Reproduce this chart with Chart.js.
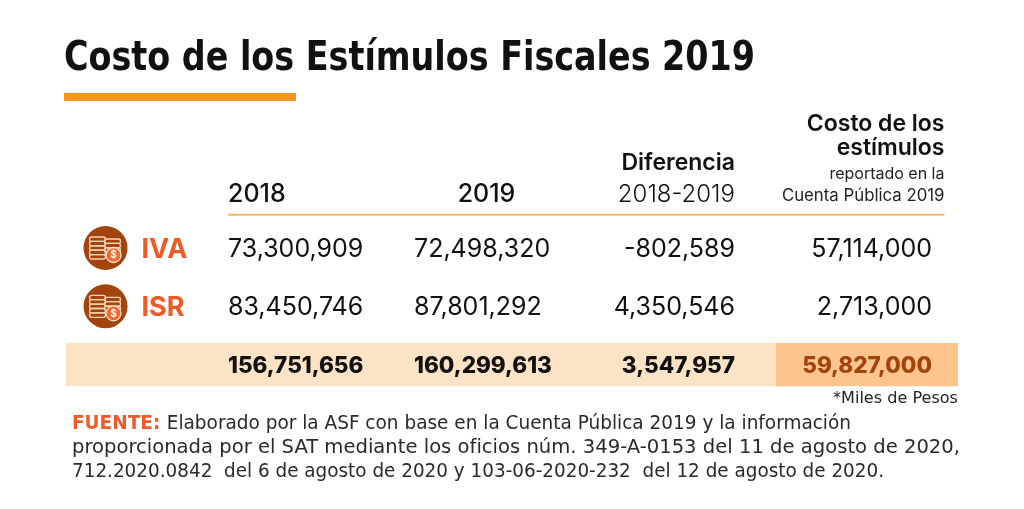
<!DOCTYPE html>
<html lang="es">
<head>
<meta charset="utf-8">
<title>Costo de los Estímulos Fiscales 2019</title>
<script src="https://cdn.jsdelivr.net/npm/chart.js@4.4.1/dist/chart.umd.min.js"></script>
<style>
  html, body { margin: 0; padding: 0; background: #ffffff; }
  #caja { position: relative; width: 1024px; height: 509px; }
</style>
</head>
<body>
<div id="caja"><canvas id="tabla"></canvas></div>
<script>
// datos de la tabla (miles de pesos)
const filas = ['encabezado', 'IVA', 'ISR', 'Total'];
const impuestos = ['IVA', 'ISR'];
const valores2018 = [73300909, 83450746];
const valores2019 = [72498320, 87801292];
const diferencia = [-802589, 4350546];
const costoReportado = [57114000, 2713000];
const totales = [156751656, 160299613, 3547957, 59827000];

const titulo = 'Costo de los Estímulos Fiscales 2019';
const nota = '*Miles de Pesos';
const fuente = [
  'Elaborado por la ASF con base en la Cuenta Pública 2019 y la información',
  'proporcionada por el SAT mediante los oficios núm. 349-A-0153 del 11 de agosto de 2020,',
  '712.2020.0842  del 6 de agosto de 2020 y 103-06-2020-232  del 12 de agosto de 2020.'
];

const NARANJA = '#F7941D';
const ROJIZO = '#EE5A28';
const CAFE = '#A3440F';
const fmt = n => n.toLocaleString('en-US');

const SANS = 'Inter, "Open Sans", sans-serif';
const NARROW = '"Liberation Sans Narrow", "DejaVu Sans Condensed", sans-serif';

// texto con compresion horizontal opcional para ajustar a un ancho
function texto(ctx, str, x, y, font, color, align, ancho) {
  ctx.save();
  ctx.font = font;
  ctx.fillStyle = color;
  ctx.textBaseline = 'alphabetic';
  const w = ctx.measureText(str).width;
  const sx = ancho ? ancho / w : 1;
  ctx.translate(x, y);
  ctx.scale(sx, 1);
  ctx.textAlign = align;
  ctx.fillText(str, 0, 0);
  ctx.restore();
}

function icono(ctx, cx, cy) {
  ctx.save();
  ctx.fillStyle = CAFE;
  ctx.beginPath();
  ctx.arc(cx, cy, 22, 0, Math.PI * 2);
  ctx.fill();
  ctx.strokeStyle = '#F8D3B2';
  ctx.lineWidth = 1.3;
  const pila = (x0, y0, n) => {
    for (let k = 0; k < n; k++) {
      const y = y0 + k * 4.4;
      ctx.beginPath();
      ctx.moveTo(x0 + 2.2, y);
      ctx.lineTo(x0 + 13.8, y);
      ctx.arc(x0 + 13.8, y + 2.2, 2.2, -Math.PI / 2, Math.PI / 2);
      ctx.lineTo(x0 + 2.2, y + 4.4);
      ctx.arc(x0 + 2.2, y + 2.2, 2.2, Math.PI / 2, Math.PI * 1.5);
      ctx.stroke();
    }
  };
  pila(cx - 16, cy - 11, 5);
  pila(cx - 1, cy - 9, 3);
  ctx.fillStyle = '#F26B2C';
  ctx.beginPath();
  ctx.arc(cx + 8, cy + 7, 7.5, 0, Math.PI * 2);
  ctx.fill();
  ctx.strokeStyle = '#FCE3CF';
  ctx.stroke();
  ctx.fillStyle = '#ffffff';
  ctx.font = 'bold 10px ' + SANS;
  ctx.textAlign = 'center';
  ctx.textBaseline = 'middle';
  ctx.fillText('$', cx + 8, cy + 7.5);
  ctx.restore();
}

const INSET = 31.5;
const alineacion = ['left', 'left', 'right', 'right'];
const ajusteCol = [0, -4, 0, 7];

const tablaPlugin = {
  id: 'tablaPlugin',
  afterDatasetsDraw(chart) {
    const ctx = chart.ctx;
    const x = chart.scales.x;
    const y = chart.scales.y;
    const colIzq = i => x.getPixelForValue(i - 0.5);
    const colDer = i => x.getPixelForValue(i + 0.5);
    const ancla = i => (alineacion[i - 1] === 'left' ? colIzq(i) + INSET : colDer(i) - INSET) + ajusteCol[i - 1];
    const fila = r => y.getPixelForValue(r);

    // titulo y barra naranja
    texto(ctx, titulo, 64, 70, 'bold 40px ' + NARROW, '#111111', 'left', 691);
    ctx.fillStyle = NARANJA;
    ctx.fillRect(64, 93, 232, 8);

    // encabezados
    const h = fila(0);
    texto(ctx, '2018', colIzq(1) + INSET, h + 12.5, '500 25px ' + SANS, '#111111', 'left');
    texto(ctx, '2019', x.getPixelForValue(2) + 5, h + 12.5, '500 25px ' + SANS, '#111111', 'center');
    texto(ctx, 'Diferencia', colDer(3) - INSET, h - 20, '600 23px ' + SANS, '#111111', 'right');
    texto(ctx, '2018-2019', colDer(3) - INSET, h + 12.5, '300 24px ' + SANS, '#111111', 'right');
    const d4 = colDer(4) - 12;
    texto(ctx, 'Costo de los', d4, h - 58.5, '600 23px ' + SANS, '#111111', 'right');
    texto(ctx, 'estímulos', d4, h - 34.5, '600 23px ' + SANS, '#111111', 'right');
    texto(ctx, 'reportado en la', d4, h - 10.5, '400 16px ' + SANS, '#222222', 'right');
    texto(ctx, 'Cuenta Pública 2019', d4, h + 11.5, '400 16.8px ' + SANS, '#222222', 'right');

    // linea bajo encabezados
    const yl = (fila(0) + fila(1)) / 2 - 4;
    ctx.strokeStyle = '#F4B869';
    ctx.lineWidth = 2;
    ctx.beginPath();
    ctx.moveTo(colIzq(1) + INSET, yl);
    ctx.lineTo(d4, yl);
    ctx.stroke();

    // filas de impuestos
    const columnas = [valores2018, valores2019, diferencia, costoReportado];
    impuestos.forEach((imp, r) => {
      const yc = fila(r + 1);
      const xi = x.getPixelForValue(0);
      icono(ctx, xi + 4, yc);
      texto(ctx, imp, xi + 40, yc + 10, 'bold 27px ' + SANS, ROJIZO, 'left');
      columnas.forEach((serie, c) => {
        texto(ctx, fmt(serie[r]), ancla(c + 1), yc + 9, '400 25px ' + SANS, '#111111', alineacion[c]);
      });
    });

    // fila de totales
    const yt = fila(3);
    totales.forEach((v, c) => {
      texto(ctx, fmt(v), ancla(c + 1), yt + 8, '800 22.5px ' + SANS, c === 3 ? CAFE : '#111111', alineacion[c]);
    });

    // nota y fuente
    texto(ctx, nota, chart.chartArea.right, 403, '16px ' + NARROW, '#222222', 'right', 125);
    ctx.font = 'bold 20px ' + NARROW;
    const wEt = ctx.measureText('FUENTE: ').width;
    ctx.font = '20px ' + NARROW;
    const wL1 = ctx.measureText(fuente[0]).width;
    const sx = 779 / (wEt + wL1);
    texto(ctx, 'FUENTE: ', 72, 429, 'bold 20px ' + NARROW, ROJIZO, 'left', wEt * sx);
    texto(ctx, fuente[0], 72 + wEt * sx, 429, '20px ' + NARROW, '#2a2a2a', 'left', wL1 * sx);
    texto(ctx, fuente[1], 72, 453, '20px ' + NARROW, '#2a2a2a', 'left', 888);
    texto(ctx, fuente[2], 72, 477, '20px ' + NARROW, '#2a2a2a', 'left', 812);
  }
};

const X_MIN = -0.187;
const X_MAX = 4.508;
const CORTE = 3.55;

new Chart(document.getElementById('tabla').getContext('2d'), {
  type: 'bar',
  data: {
    labels: filas,
    datasets: [
      {
        label: 'fondo total',
        data: [null, null, null, [X_MIN, CORTE]],
        backgroundColor: '#FDE3C6',
        grouped: false,
        categoryPercentage: 1,
        barPercentage: 0.74
      },
      {
        label: 'costo total',
        data: [null, null, null, [CORTE, X_MAX]],
        backgroundColor: '#FBC58D',
        grouped: false,
        categoryPercentage: 1,
        barPercentage: 0.74
      }
    ]
  },
  options: {
    indexAxis: 'y',
    responsive: true,
    maintainAspectRatio: false,
    animation: false,
    events: [],
    layout: { padding: { left: 66, right: 66, top: 160.5, bottom: 115.2 } },
    scales: {
      x: { type: 'linear', min: X_MIN, max: X_MAX, display: false },
      y: { type: 'category', offset: true, display: false }
    },
    plugins: {
      legend: { display: false },
      tooltip: { enabled: false }
    }
  },
  plugins: [tablaPlugin]
});
</script>
</body>
</html>
